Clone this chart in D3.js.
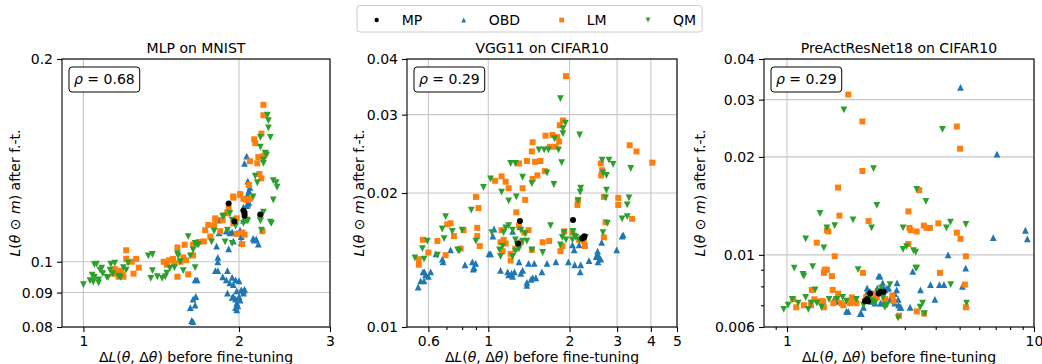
<!DOCTYPE html>
<html><head><meta charset="utf-8">
<script src="https://cdn.jsdelivr.net/npm/d3@7"></script>
<style>
body{margin:0;background:#fff;}
svg{display:block;font-family:"DejaVu Sans",sans-serif;}
</style></head><body>
<svg id="chart" width="1042" height="364"></svg>
<script>
// ---------- data ----------
const seriesNames = ["MP", "OBD", "LM", "QM"];
const seriesColors = ["#000000", "#1f77b4", "#ff7f0e", "#2ca02c"];
const seriesMarkers = ["circle", "triangleUp", "square", "triangleDown"];
const panelTitles = ["MLP on MNIST", "VGG11 on CIFAR10", "PreActResNet18 on CIFAR10"];
const rhoValues = ["0.68", "0.29", "0.29"];

const mlpXTicks = [1, 2, 3];
const mlpYTicks = [0.08, 0.09, 0.1, 0.2];
const vggXTicks = [0.6, 1, 2, 3, 4, 5];
const vggXMinor = [0.7, 0.8, 0.9];
const vggYTicks = [0.01, 0.02, 0.03, 0.04];
const resXTicks = [1, 10];
const resXMinor = [0.9, 2, 3, 4, 5, 6, 7, 8, 9];
const resYTicks = [0.006, 0.01, 0.02, 0.03, 0.04];
const resYMinor = [0.007, 0.008, 0.009];

// MLP on MNIST
const mlpMP = [[1.91,0.122],[1.96,0.1147],[2.04,0.119],[2.05,0.1183],[2.05,0.117],[2.2,0.1175]];
const mlpOBD = [[1.61,0.0855],[1.62,0.0818],[1.63,0.0815],[1.63,0.088],[1.645,0.0862],[1.65,0.0888],[1.645,0.094],[1.66,0.094],
[1.80,0.097],[1.82,0.097],[1.82,0.1],[1.81,0.1055],[1.82,0.1015],[1.83,0.1153],[1.83,0.1104],[1.86,0.095],[1.89,0.094],[1.89,0.111],[1.9,0.097],[1.9,0.0898],[1.91,0.1045],[1.92,0.093],[1.92,0.1104],[1.94,0.0948],[1.94,0.0885],[1.94,0.1107],[1.95,0.0925],[1.95,0.0888],[1.95,0.1073],[1.97,0.094],[1.97,0.088],[1.97,0.0855],[1.98,0.0905],[1.98,0.0868],[1.98,0.0848],[1.98,0.1103],[1.99,0.086],[2.0,0.0937],[2.0,0.0888],[2.01,0.0877],[2.01,0.1114],[2.01,0.126],[2.02,0.0908],[2.02,0.109],[2.02,0.1068],[2.04,0.0898],[2.04,0.0905],[2.04,0.1153],[2.04,0.1205],[2.05,0.091],[2.05,0.14],[2.07,0.1212],[2.07,0.1435],[2.08,0.126],[2.08,0.1218],[2.08,0.1252],[2.08,0.1317],[2.09,0.1225],[2.09,0.1275],[2.1,0.129],[2.13,0.1083],[2.14,0.1077],[2.16,0.108],[2.18,0.1062]];
const mlpLM = [[1.14,0.096],[1.15,0.0975],[1.16,0.096],[1.17,0.095],[1.18,0.097],[1.19,0.0958],[1.195,0.095],[1.21,0.104],[1.21,0.101],[1.24,0.1],[1.25,0.096],[1.265,0.101],[1.28,0.098],
[1.43,0.1],[1.45,0.099],[1.465,0.1005],[1.49,0.101],[1.5,0.0995],[1.52,0.095],[1.52,0.105],[1.54,0.1],[1.56,0.1015],[1.57,0.106],[1.58,0.1005],[1.595,0.0958],[1.63,0.106],[1.63,0.1022],[1.67,0.107],[1.71,0.1072],[1.72,0.1114],[1.745,0.1134],[1.76,0.109],[1.79,0.113],[1.80,0.1153],[1.80,0.116],[1.84,0.111],[1.86,0.1153],[1.9,0.118],[1.9,0.1185],[1.91,0.12],[1.95,0.114],[1.95,0.125],[1.95,0.1245],[1.98,0.116],[1.98,0.110],[2.01,0.126],[2.03,0.1105],[2.03,0.1062],[2.04,0.124],[2.05,0.1097],[2.07,0.1235],[2.09,0.13],[2.10,0.141],[2.1,0.124],[2.14,0.152],[2.15,0.15],[2.17,0.14],[2.18,0.143],[2.19,0.135],[2.2,0.117],[2.21,0.155],[2.21,0.133],[2.22,0.111],[2.23,0.171],[2.23,0.165],[2.23,0.1435],[2.25,0.145]];
const mlpQM = [[1.0,0.0925],[1.03,0.0937],[1.04,0.0955],[1.045,0.0933],[1.05,0.099],[1.05,0.0948],[1.06,0.0992],[1.07,0.094],[1.07,0.093],[1.077,0.0972],[1.085,0.0978],[1.09,0.096],[1.11,0.0948],[1.116,0.0948],[1.126,0.0972],[1.13,0.0992],[1.14,0.096],[1.15,0.0995],[1.17,0.0952],[1.18,0.0948],[1.195,0.098],[1.21,0.0972],[1.22,0.0995],
[1.335,0.102],[1.36,0.1025],[1.36,0.097],[1.35,0.0945],[1.39,0.095],[1.42,0.0945],[1.44,0.095],[1.45,0.0962],[1.47,0.0978],[1.5,0.098],[1.52,0.1028],[1.525,0.102],[1.54,0.1],[1.56,0.097],[1.595,0.109],[1.61,0.102],[1.63,0.1041],[1.645,0.098],[1.645,0.1065],[1.66,0.106],[1.67,0.106],
[1.77,0.107],[1.79,0.111],[1.86,0.1168],[1.87,0.117],[1.88,0.107],[1.90,0.1114],[1.92,0.118],[1.94,0.1065],[1.94,0.1153],[1.97,0.113],[2.04,0.114],[2.05,0.1165],[2.07,0.1153],[2.08,0.115],[2.13,0.1248],[2.15,0.134],[2.17,0.131],[2.2,0.115],[2.2,0.153],[2.2,0.148],[2.21,0.1114],[2.23,0.1185],[2.23,0.1416],[2.23,0.14],[2.25,0.145],[2.26,0.144],[2.27,0.165],[2.28,0.162],[2.28,0.158],[2.30,0.153],[2.30,0.1145],[2.31,0.114],[2.33,0.1235],[2.33,0.132],[2.36,0.131],[2.37,0.129]];

// VGG11 on CIFAR10
const vggMP = [[1.31,0.0173],[1.29,0.0154],[2.06,0.0174],[2.23,0.0158],[2.27,0.016],[2.26,0.0159]];
const vggOBD = [[0.55,0.0123],[0.562,0.0127],[0.573,0.0133],[0.586,0.0131],[0.578,0.0127],[0.612,0.0133],[0.58,0.0133],[0.60,0.013],[0.64,0.0146],[0.676,0.0142],[0.68,0.014],[0.725,0.0149],[0.82,0.0138],[0.873,0.014],[0.885,0.0136],[0.898,0.0139],[0.88,0.0135],[1.006,0.0146],[1.02,0.0146],[1.05,0.0166],[1.04,0.016],[1.11,0.0134],[1.18,0.0133],[1.19,0.0131],[1.22,0.0132],[1.25,0.0133],[1.23,0.013],[1.30,0.014],[1.34,0.0134],[1.32,0.0132],[1.39,0.0126],[1.39,0.0124],[1.44,0.0128],[1.46,0.0129],[1.50,0.0129],[1.41,0.0139],[1.48,0.0139],[1.58,0.0133],[1.23,0.0164],[1.31,0.0168],[1.65,0.0139],[1.78,0.014],[1.98,0.014],[2.05,0.0153],[2.08,0.0149],[2.09,0.0138],[2.17,0.0153],[2.20,0.0138],[2.19,0.0133],[2.36,0.0141],[2.51,0.0144],[2.53,0.0145],[2.54,0.0148],[2.55,0.014],[2.57,0.0144],[2.61,0.0142],[2.63,0.0155],[2.99,0.0149],[3.13,0.016],[3.16,0.0161]];
const vggLM = [[1.94,0.0366],[1.89,0.0291],[1.84,0.0284],[1.63,0.0269],[1.73,0.027],[1.80,0.0267],[1.83,0.0261],[1.69,0.0254],[1.775,0.0254],[1.46,0.026],[1.45,0.0248],[1.56,0.0236],[1.39,0.0236],[1.49,0.0235],[1.30,0.0233],[1.62,0.0224],[1.52,0.0219],[1.46,0.0215],[1.12,0.0218],[1.06,0.0213],[1.16,0.0212],[1.19,0.0205],[1.34,0.0205],[1.37,0.0193],[1.27,0.0181],[0.90,0.0196],[0.92,0.0185],[0.705,0.017],[0.725,0.0171],[0.81,0.0165],[0.91,0.0167],[0.746,0.016],[0.91,0.016],[0.93,0.0152],[0.79,0.015],[0.648,0.0156],[0.573,0.0157],[0.60,0.0147],[0.553,0.0142],[0.553,0.0138],[0.695,0.0145],
[1.12,0.0165],[1.14,0.0157],[1.11,0.0155],[1.16,0.0154],[1.13,0.0148],[1.21,0.0146],[1.32,0.0155],[1.41,0.0165],[1.30,0.0169],[1.36,0.0163],[1.21,0.0141],[1.45,0.0149],[1.26,0.015],
[1.59,0.0155],[1.68,0.0156],[1.85,0.0148],[1.91,0.0164],[1.88,0.0152],[2.05,0.0163],[2.14,0.0188],[2.15,0.0193],[2.17,0.0157],[2.26,0.0156],[2.28,0.0152],
[2.62,0.0219],[2.64,0.0225],[2.61,0.0233],[2.68,0.0196],[2.72,0.0172],[2.68,0.0159],[3.03,0.0195],[3.03,0.0188],[3.41,0.0175],[3.34,0.0256],[3.54,0.0248],[4.05,0.0234]];
const vggQM = [[1.85,0.0326],[1.93,0.0287],[1.89,0.0279],[1.89,0.0272],[2.18,0.027],[1.76,0.0265],[1.82,0.025],[1.87,0.0234],[1.67,0.025],[1.61,0.025],[1.54,0.025],[1.65,0.0222],[1.75,0.0209],[1.45,0.021],[1.34,0.0217],[1.26,0.0233],[1.21,0.0233],[1.12,0.0201],[1.02,0.0215],[0.96,0.0206],[1.27,0.0196],[1.19,0.0192],[0.865,0.0183],[0.695,0.0177],[0.675,0.0166],[0.736,0.0164],[0.686,0.0158],[0.80,0.0165],[0.90,0.0156],[0.77,0.0149],[0.78,0.0148],[0.648,0.0145],[0.578,0.0142],[0.535,0.0143],[0.57,0.015],[0.595,0.0156],[1.03,0.0163],
[1.16,0.0167],[1.19,0.0169],[1.14,0.0163],[1.23,0.0165],[1.13,0.0152],[1.10,0.0149],[1.11,0.0144],[1.26,0.0157],[1.28,0.0153],[1.30,0.015],[1.34,0.0156],[1.37,0.0162],[1.32,0.0165],[1.26,0.0148],[1.23,0.0144],[1.39,0.0156],[1.45,0.0149],[1.59,0.0147],[1.70,0.0169],
[2.06,0.0164],[2.08,0.016],[2.05,0.0157],[2.11,0.0159],[2.17,0.0157],[2.23,0.0158],[2.29,0.0159],[1.88,0.0159],[1.94,0.0157],[1.85,0.0153],[1.91,0.0163],[2.15,0.0192],[2.20,0.0205],[2.19,0.0201],
[2.64,0.0237],[2.66,0.0222],[2.74,0.0219],[2.74,0.0203],[2.72,0.0195],[2.80,0.0237],[2.90,0.0232],[2.66,0.0163],[2.76,0.0171],[3.37,0.0227],[3.27,0.0188],[3.32,0.0195],[3.13,0.0175],[3.27,0.0177]];

// PreActResNet18 on CIFAR10
const resMP = [[2.07,0.0072],[2.11,0.0073],[2.13,0.0072],[2.17,0.0076],[2.35,0.0076],[2.40,0.0077],[2.46,0.0077]];
const resOBD = [[5.04,0.0327],[7.08,0.0204],[6.84,0.0113],[9.23,0.0119],[9.4,0.0112],[4.49,0.01],[5.29,0.0091],[3.23,0.0089],[3.47,0.0078],[3.81,0.0081],[4.14,0.0081],[4.32,0.0081],[3.97,0.0073],[3.15,0.0069],[5.13,0.008],[2.38,0.0086],[2.54,0.0079],[2.78,0.0078],[2.82,0.0073],[2.89,0.0069],[2.61,0.0073],[2.45,0.0071],[1.83,0.0072],[1.74,0.0067],[2.0,0.0066],[2.04,0.0069],[2.10,0.0076],[2.17,0.0077],[2.2,0.0072],[2.25,0.0074],[2.32,0.0079],[2.44,0.0082],[2.35,0.0086],[2.44,0.008],[2.58,0.0079],[2.50,0.0078],[2.11,0.0079],[2.15,0.0077],[1.77,0.0067],[1.98,0.0066],[2.27,0.0071],[2.39,0.0071],[2.73,0.0071],[2.83,0.007],[2.87,0.0069],[2.73,0.0076],[2.79,0.0082],[1.55,0.0073],[1.60,0.0072]];
const resLM = [[1.77,0.0311],[2.02,0.0257],[2.02,0.0181],[1.61,0.0161],[1.63,0.0132],[2.14,0.0127],[1.32,0.0109],[1.45,0.0119],[1.47,0.0118],[1.56,0.0099],[1.42,0.009],[1.45,0.009],[1.41,0.0088],[1.52,0.0086],[2.03,0.0088],[3.1,0.0136],[3.1,0.0108],[3.13,0.0121],[3.17,0.0119],[3.35,0.0118],[3.58,0.0123],[3.67,0.0121],[3.79,0.0121],[4.1,0.0125],[4.87,0.0117],[5.04,0.0112],[5.3,0.0099],[3.43,0.0158],[4.87,0.0248],[5.02,0.0212],[4.16,0.0088],[5.25,0.0081],[5.3,0.0069],[3.35,0.0067],[3.59,0.0066],[2.84,0.0065],[2.5,0.0073],[2.67,0.0075],[2.7,0.0072],
[1.06,0.0073],[1.09,0.0069],[1.17,0.007],[1.26,0.0078],[1.29,0.0073],[1.36,0.0072],[1.40,0.0072],[1.41,0.0069],[1.25,0.007],[1.53,0.0078],[1.54,0.0071],[1.59,0.0073],[1.66,0.0071],[1.69,0.007],[1.61,0.0076],[1.83,0.0074],[1.86,0.0072],[1.80,0.0071],[1.91,0.0071],[2.07,0.0072],[2.09,0.0074],[2.2,0.0073],[2.27,0.0076],[2.31,0.0074],[2.38,0.0076],[2.48,0.0073]];
const resQM = [[1.70,0.0279],[2.24,0.0184],[2.31,0.0142],[1.36,0.0134],[1.19,0.0112],[1.45,0.0121],[1.56,0.0123],[1.41,0.0105],[2.20,0.0121],[1.85,0.0128],[3.35,0.0159],[3.65,0.0146],[4.59,0.0126],[5.3,0.0124],[4.42,0.0121],[4.26,0.0243],[2.95,0.0121],[2.95,0.0104],[3.05,0.0106],[3.25,0.0103],[3.32,0.0102],[3.32,0.0091],[1.07,0.0091],[1.16,0.0087],[1.17,0.0086],[1.27,0.0092],[0.97,0.0068],[1.01,0.007],[1.05,0.0073],[1.11,0.0071],[1.19,0.0074],[1.22,0.0068],[1.25,0.0071],[1.30,0.0078],[1.32,0.0071],[1.38,0.0069],[1.59,0.0073],[1.48,0.0073],[1.68,0.0074],[1.74,0.0072],[1.94,0.009],[1.91,0.0073],[2.04,0.007],[2.14,0.0073],[2.22,0.0072],[2.27,0.0071],[2.34,0.0077],[2.41,0.0079],[2.45,0.0074],[2.61,0.0081],[2.54,0.007],[2.82,0.0064],[3.46,0.0069],[3.54,0.0071],[3.35,0.0091],[5.33,0.0071],[4.6,0.0081],[3.6,0.0066],[2.49,0.0069]];

// ---------- layout ----------
const W = 1042, H = 364;
const plotTop = 59, plotBottom = 327;
const FONT = "DejaVu Sans";
const panels = [
  {title: panelTitles[0], rho: rhoValues[0], left: 62, right: 330, xDomain: [0.909, 3], yDomain: [0.08, 0.2],
   xTicks: mlpXTicks, xMinor: [], yTicks: mlpYTicks, yMinor: [], series: [mlpMP, mlpOBD, mlpLM, mlpQM], ylabX: 19.5},
  {title: panelTitles[1], rho: rhoValues[1], left: 407, right: 677, xDomain: [0.5, 5], yDomain: [0.01, 0.04],
   xTicks: vggXTicks, xMinor: vggXMinor, yTicks: vggYTicks, yMinor: [], series: [vggMP, vggOBD, vggLM, vggQM], ylabX: 364},
  {title: panelTitles[2], rho: rhoValues[2], left: 764, right: 1034, xDomain: [0.807, 10], yDomain: [0.006, 0.04],
   xTicks: resXTicks, xMinor: resXMinor, yTicks: resYTicks, yMinor: resYMinor, series: [resMP, resOBD, resLM, resQM], ylabX: 705}
];

function markerPath(type, s) {
  const h = s / 2;
  if (type === "triangleUp") return `M0,${-h}L${h},${h}L${-h},${h}Z`;
  if (type === "triangleDown") return `M0,${h}L${h},${-h}L${-h},${-h}Z`;
  if (type === "square") return `M${-h},${-h}H${h}V${h}H${-h}Z`;
  return d3.symbol(d3.symbolCircle, Math.PI * h * h)();
}
const markerSizes = {circle: 6, triangleUp: 6.8, square: 6, triangleDown: 6.8};

const svg = d3.select("#chart");
svg.append("rect").attr("width", W).attr("height", H).attr("fill", "#fff");

panels.forEach((p, pi) => {
  const g = svg.append("g");
  const x = d3.scaleLog().domain(p.xDomain).range([p.left, p.right]);
  const y = d3.scaleLog().domain(p.yDomain).range([plotBottom, plotTop]);

  // grid
  g.append("g").selectAll("line").data(p.xTicks).join("line")
    .attr("x1", d => x(d)).attr("x2", d => x(d)).attr("y1", plotTop).attr("y2", plotBottom)
    .attr("stroke", "#c6c6c6").attr("stroke-width", 1.1);
  g.append("g").selectAll("line").data(p.yTicks).join("line")
    .attr("y1", d => y(d)).attr("y2", d => y(d)).attr("x1", p.left).attr("x2", p.right)
    .attr("stroke", "#c6c6c6").attr("stroke-width", 1.1);

  // points: OBD, LM, QM then MP on top
  const clipId = "clip" + pi;
  g.append("clipPath").attr("id", clipId).append("rect")
    .attr("x", p.left).attr("y", plotTop).attr("width", p.right - p.left).attr("height", plotBottom - plotTop);
  const pts = g.append("g").attr("clip-path", `url(#${clipId})`);
  [1, 2, 3, 0].forEach(si => {
    const m = seriesMarkers[si];
    pts.append("g").selectAll("path").data(p.series[si]).join("path")
      .attr("d", markerPath(m, markerSizes[m]))
      .attr("transform", d => `translate(${x(d[0])},${y(d[1])})`)
      .attr("fill", seriesColors[si]);
  });

  // frame
  g.append("rect").attr("x", p.left).attr("y", plotTop)
    .attr("width", p.right - p.left).attr("height", plotBottom - plotTop)
    .attr("fill", "none").attr("stroke", "#000").attr("stroke-width", 1.1);

  // axes
  const styleAxis = sel => {
    sel.select(".domain").remove();
    sel.attr("font-size", 14).attr("font-family", FONT);
    sel.selectAll("line").attr("stroke-width", 1.1);
    sel.selectAll("text").attr("fill", "#000");
  };
  g.append("g").attr("transform", `translate(0,${plotBottom})`)
    .call(d3.axisBottom(x).tickValues(p.xTicks).tickFormat(d => String(d)).tickSize(5).tickPadding(4)).call(styleAxis);
  g.append("g").attr("transform", `translate(0,${plotBottom})`)
    .call(d3.axisBottom(x).tickValues(p.xMinor).tickFormat("").tickSize(3)).call(styleAxis);
  g.append("g").attr("transform", `translate(${p.left},0)`)
    .call(d3.axisLeft(y).tickValues(p.yTicks).tickFormat(d => String(d)).tickSize(5).tickPadding(4)).call(styleAxis);
  g.append("g").attr("transform", `translate(${p.left},0)`)
    .call(d3.axisLeft(y).tickValues(p.yMinor).tickFormat("").tickSize(3)).call(styleAxis);

  const cx = (p.left + p.right) / 2;
  // title
  g.append("text").attr("x", cx).attr("y", 53).attr("text-anchor", "middle")
    .attr("font-size", 14).attr("font-family", FONT).text(p.title);

  // x label
  const xl = g.append("text").attr("x", cx).attr("y", 362).attr("text-anchor", "middle")
    .attr("font-size", 14).attr("font-family", FONT);
  xl.append("tspan").text("Δ");
  xl.append("tspan").attr("font-style", "italic").text("L");
  xl.append("tspan").text("(");
  xl.append("tspan").attr("font-style", "italic").text("θ");
  xl.append("tspan").text(", Δ");
  xl.append("tspan").attr("font-style", "italic").text("θ");
  xl.append("tspan").text(") before fine-tuning");

  // y label
  const yl = g.append("text").attr("transform", `translate(${p.ylabX},${(plotTop + plotBottom) / 2}) rotate(-90)`)
    .attr("text-anchor", "middle").attr("font-size", 14).attr("font-family", FONT);
  yl.append("tspan").attr("font-style", "italic").text("L");
  yl.append("tspan").text("(");
  yl.append("tspan").attr("font-style", "italic").text("θ");
  yl.append("tspan").text(" ⊙ ");
  yl.append("tspan").attr("font-style", "italic").text("m");
  yl.append("tspan").text(") after f.-t.");

  // rho box
  const bx = p.left + 7;
  const rg = g.append("g");
  const rr = rg.append("rect");
  const rt = rg.append("text").attr("x", bx + 5).attr("y", 84).attr("font-size", 14).attr("font-family", FONT);
  rt.append("tspan").attr("font-style", "italic").text("ρ");
  rt.append("tspan").text(" = " + p.rho);
  const tw = rt.node().getComputedTextLength();
  rr.attr("x", bx).attr("y", 67).attr("width", tw + 10).attr("height", 25).attr("rx", 3)
    .attr("fill", "#fff").attr("stroke", "#000").attr("stroke-width", 1);
});

// legend
const lg = svg.append("g");
const lframe = lg.append("rect");
let mx = 376.7;
let lastEnd = 0;
seriesNames.forEach((name, si) => {
  const m = seriesMarkers[si];
  lg.append("path").attr("d", markerPath(m, m === "circle" ? 4.4 : 4.8))
    .attr("transform", `translate(${mx},20)`).attr("fill", seriesColors[si]);
  const t = lg.append("text").attr("x", mx + 25).attr("y", 25).attr("font-size", 14)
    .attr("font-family", FONT).text(name);
  const w = t.node().getComputedTextLength();
  lastEnd = mx + 25 + w;
  mx = lastEnd + 41.5;
});
lframe.attr("x", 357).attr("y", 5.5).attr("width", lastEnd + 6 - 357).attr("height", 26.5).attr("rx", 3)
  .attr("fill", "#fff").attr("stroke", "#cccccc").attr("stroke-width", 1);
</script>
</body></html>
